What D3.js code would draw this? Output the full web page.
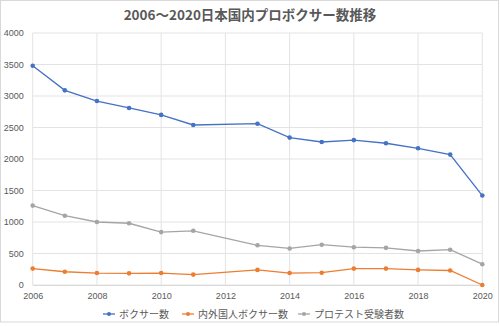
<!DOCTYPE html>
<html><head><meta charset="utf-8">
<script src="https://cdn.jsdelivr.net/npm/d3@7"></script>
<style>
html,body{margin:0;padding:0;background:#fff;}
svg{display:block;font-family:"Noto Sans CJK JP","Noto Sans",sans-serif;}
</style></head>
<body>
<svg id="chart" width="500" height="327"></svg>
<script>
const title = "2006～2020日本国内プロボクサー数推移";
const years = [2006,2007,2008,2009,2010,2011,2013,2014,2015,2016,2017,2018,2019,2020];
const boxers = [3480,3090,2920,2810,2700,2540,2560,2340,2270,2300,2250,2170,2070,1420];
const foreignBoxers = [260,210,190,185,190,165,240,190,195,260,260,240,230,0];
const testTakers = [1260,1100,1000,980,840,860,630,580,640,600,590,540,560,330];
const seriesNames = ["ボクサー数","内外国人ボクサー数","プロテスト受験者数"];
const seriesColors = ["#4472C4","#ED7D31","#A5A5A5"];
const xTicks = [2006,2008,2010,2012,2014,2016,2018,2020];
const yTicks = [0,500,1000,1500,2000,2500,3000,3500,4000];

const svg = d3.select("#chart");
svg.append("rect").attr("x",0.5).attr("y",0.5).attr("width",498).attr("height",321.5)
  .attr("fill","#fff").attr("stroke","#d9d9d9").attr("stroke-width",1);

const x = d3.scaleLinear().domain([2006,2020]).range([32.7,482.3]);
const y = d3.scaleLinear().domain([0,4000]).range([285,33]);

svg.append("text").attr("x",250).attr("y",20).attr("text-anchor","middle")
  .attr("font-size",13.5).attr("font-weight","bold").attr("fill","#595959").text(title);

// gridlines
const grid = svg.append("g");
grid.selectAll("line.h").data(yTicks).join("line").attr("class","h")
  .attr("x1",x(2006)).attr("x2",x(2020)).attr("y1",d=>y(d)).attr("y2",d=>y(d))
  .attr("stroke","#e3e3e3").attr("stroke-width",1);
grid.selectAll("line.v").data(xTicks).join("line").attr("class","v")
  .attr("x1",d=>x(d)).attr("x2",d=>x(d)).attr("y1",y(0)).attr("y2",y(4000))
  .attr("stroke","#e3e3e3").attr("stroke-width",1);

// axes
const yAxis = svg.append("g").attr("transform",`translate(${x(2006)},0)`)
  .call(d3.axisLeft(y).tickValues(yTicks).tickFormat(d3.format("d")).tickSize(0).tickPadding(9));
yAxis.select(".domain").remove();
yAxis.selectAll("text").attr("font-size",9).attr("fill","#595959");

const xAxis = svg.append("g").attr("transform",`translate(0,${y(0)})`)
  .call(d3.axisBottom(x).tickValues(xTicks).tickFormat(d3.format("d")).tickSize(0).tickPadding(8));
xAxis.select(".domain").attr("stroke","#d9d9d9");
xAxis.selectAll("text").attr("font-size",9).attr("fill","#595959");

const allSeries = [boxers, foreignBoxers, testTakers];
const line = d3.line().x((d,i)=>x(years[i])).y(d=>y(d));
allSeries.slice().reverse().forEach((vals,ri)=>{
  const k = allSeries.length-1-ri;
  const g = svg.append("g");
  g.append("path").datum(vals).attr("d",line).attr("fill","none")
    .attr("stroke",seriesColors[k]).attr("stroke-width",1.3);
  g.selectAll("circle").data(vals).join("circle")
    .attr("cx",(d,i)=>x(years[i])).attr("cy",d=>y(d)).attr("r",2.3)
    .attr("fill",seriesColors[k]);
});

// legend
const legendX = [103,182,298];
const lg = svg.append("g");
seriesNames.forEach((n,i)=>{
  const gx = legendX[i], gy = 314;
  lg.append("line").attr("x1",gx).attr("x2",gx+12).attr("y1",gy).attr("y2",gy)
    .attr("stroke",seriesColors[i]).attr("stroke-width",1.3);
  lg.append("circle").attr("cx",gx+6).attr("cy",gy).attr("r",2).attr("fill",seriesColors[i]);
  lg.append("text").attr("x",gx+16).attr("y",gy+3.5).attr("font-size",10)
    .attr("fill","#595959").text(n);
});
</script>
</body></html>
